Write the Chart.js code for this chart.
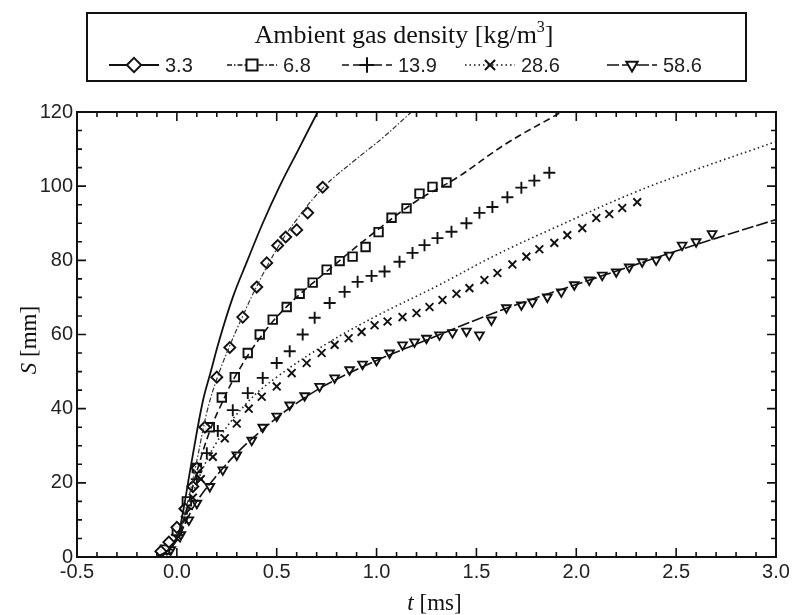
<!DOCTYPE html>
<html><head><meta charset="utf-8">
<script src="https://cdn.jsdelivr.net/npm/chart.js@4/dist/chart.umd.min.js"></script>
<style>html,body{margin:0;padding:0;background:#fff;} canvas{display:block;}</style>
</head><body>
<canvas id="c" width="794" height="615"></canvas>
<script>
// ---- data (t [ms], S [mm]) ----
const densityLabels = ['3.3', '6.8', '13.9', '28.6', '58.6'];
const xTickStep = 0.5;
const yTickStep = 20;

// experimental markers
const exp33 = [[-0.08,1.5],[-0.04,4],[0.0,8],[0.04,13],[0.08,19],[0.1,24],[0.14,35],[0.2,48.5],[0.265,56.5],[0.33,64.7],[0.40,72.8],[0.45,79.3],[0.505,84],[0.545,86.3],[0.60,88.2],[0.655,92.8],[0.73,99.7]];
const exp68 = [[-0.06,2],[0.0,7],[0.05,15],[0.1,24],[0.165,35],[0.225,43],[0.29,48.5],[0.355,55],[0.415,60],[0.48,64],[0.55,67.4],[0.615,71],[0.68,74],[0.75,77.5],[0.815,79.8],[0.88,81],[0.945,83.6],[1.01,87.6],[1.075,91.5],[1.15,94],[1.215,98],[1.28,99.8],[1.35,101]];
const exp139 = [[-0.05,2],[0.0,6],[0.05,13],[0.1,21],[0.15,28],[0.205,34],[0.28,39.6],[0.355,44.2],[0.43,48.3],[0.5,52.3],[0.565,55.5],[0.63,60],[0.69,64.5],[0.765,68.5],[0.84,71.5],[0.905,74.2],[0.975,75.8],[1.04,77],[1.115,79.6],[1.18,82],[1.24,84.1],[1.305,86],[1.375,87.7],[1.45,90],[1.515,92.8],[1.58,94.4],[1.655,97],[1.725,99.6],[1.79,101.5],[1.865,103.6]];
const exp286 = [[-0.05,1.5],[0.0,5],[0.04,10],[0.08,16],[0.12,21],[0.18,27],[0.24,32],[0.3,36],[0.36,40],[0.425,43.2],[0.5,46],[0.575,49.6],[0.65,52.3],[0.725,55],[0.79,57.2],[0.86,59],[0.925,60.7],[0.99,62.5],[1.055,63.5],[1.13,64.7],[1.2,65.8],[1.265,67.4],[1.33,69.3],[1.4,71],[1.465,72.5],[1.54,74.7],[1.605,76.6],[1.68,78.9],[1.75,81],[1.815,83],[1.89,84.7],[1.955,86.8],[2.03,88.7],[2.1,91.4],[2.165,92.5],[2.23,94.1],[2.305,95.7]];
const exp586 = [[-0.03,2],[0.02,6],[0.06,10],[0.1,14.5],[0.165,19],[0.23,23.5],[0.3,27.5],[0.375,31.5],[0.43,35],[0.5,38],[0.565,41],[0.64,43.5],[0.715,46],[0.79,48.3],[0.865,50.5],[0.93,52],[1.0,53],[1.065,55],[1.13,57.2],[1.19,58],[1.25,59],[1.315,59.9],[1.38,60.5],[1.45,60.9],[1.515,59.9],[1.575,63.9],[1.65,67.2],[1.725,68],[1.78,68.8],[1.855,70.1],[1.925,71.5],[1.99,73.4],[2.065,74.7],[2.13,76],[2.2,76.9],[2.265,78.2],[2.33,79.6],[2.4,80.1],[2.465,81.4],[2.53,84.1],[2.6,85],[2.68,87.2]];

// model curves
const model33 = [[-0.1,0],[-0.05,1.5],[0,5],[0.025,10.5],[0.075,26],[0.13,42],[0.17,50],[0.21,58],[0.28,70],[0.35,79.5],[0.43,90],[0.515,100],[0.61,110],[0.705,120],[0.72,121.5]];
const model68 = [[-0.1,0],[-0.05,1.5],[0,5],[0.05,14],[0.1,26],[0.15,39],[0.2,48],[0.265,57],[0.33,65],[0.4,73],[0.5,83],[0.6,91],[0.74,100],[0.88,106.5],[1.03,113],[1.175,120],[1.2,121]];
const model139 = [[-0.1,0],[-0.05,1.5],[0,5],[0.05,13],[0.1,23],[0.165,34],[0.23,42],[0.29,48.5],[0.415,59],[0.55,67.5],[0.75,77],[1.0,88],[1.2,96],[1.4,102.2],[1.65,111.5],[1.925,120],[1.95,121]];
const model286 = [[-0.1,0],[-0.05,1.5],[0,5],[0.05,12],[0.1,20],[0.2,31],[0.35,41.5],[0.5,48.5],[0.75,57.5],[1.0,65],[1.3,73],[1.6,81.5],[1.9,89],[2.3,98.5],[2.6,104.5],[3.0,112]];
const model586 = [[-0.1,0],[-0.05,1.5],[0,4.5],[0.05,10],[0.1,15],[0.2,22],[0.3,28],[0.4,33],[0.5,37.5],[0.6,41.5],[0.75,46.5],[1.0,53],[1.25,58.5],[1.5,64],[1.75,69],[2.0,73.5],[2.25,78],[2.5,82.5],[2.75,86.8],[3.0,91]];

// ---- styles ----
const markerStyles = [
  {pointStyle:'rectRot', radius:5.5, rotation:0},
  {pointStyle:'rect', radius:6, rotation:0},
  {pointStyle:'cross', radius:6, rotation:0},
  {pointStyle:'crossRot', radius:5.5, rotation:0},
  {pointStyle:'triangle', radius:5, rotation:180}
];
const lineStyles = [
  {dash:[], width:1.8, color:'#111'},
  {dash:[5,2,1.5,2], width:1.2, color:'#333'},
  {dash:[7,4], width:1.6, color:'#111'},
  {dash:[1.5,3], width:1.6, color:'#222'},
  {dash:[12,3], width:1.6, color:'#111'}
];
const expSets = [exp33, exp68, exp139, exp286, exp586];
const modelSets = [model33, model68, model139, model286, model586];
const toXY = arr => arr.map(p => ({x:p[0], y:p[1]}));

const datasets = [];
modelSets.forEach((m, i) => {
  datasets.push({
    label: densityLabels[i] + ' model',
    data: toXY(m), showLine: true, pointRadius: 0, pointHoverRadius: 0,
    borderColor: lineStyles[i].color, borderWidth: lineStyles[i].width,
    borderDash: lineStyles[i].dash, tension: 0.4, fill: false
  });
});
expSets.forEach((e, i) => {
  datasets.push({
    label: densityLabels[i],
    data: toXY(e), showLine: false,
    pointStyle: markerStyles[i].pointStyle, pointRadius: markerStyles[i].radius,
    pointRotation: markerStyles[i].rotation,
    pointBorderColor: '#111', pointBackgroundColor: 'rgba(255,255,255,0.9)', pointBorderWidth: 1.9,
    borderColor: '#111', backgroundColor: '#fff'
  });
});

function drawMarker(ctx, style, x, y, scale) {
  const r = style.radius * scale;
  ctx.beginPath();
  switch (style.pointStyle) {
    case 'rectRot': ctx.moveTo(x, y-r); ctx.lineTo(x+r, y); ctx.lineTo(x, y+r); ctx.lineTo(x-r, y); ctx.closePath(); break;
    case 'rect': { const h = r*Math.SQRT1_2; ctx.rect(x-h, y-h, 2*h, 2*h); break; }
    case 'cross': ctx.moveTo(x-r, y); ctx.lineTo(x+r, y); ctx.moveTo(x, y-r); ctx.lineTo(x, y+r); break;
    case 'crossRot': { const h = r*Math.SQRT1_2; ctx.moveTo(x-h, y-h); ctx.lineTo(x+h, y+h); ctx.moveTo(x+h, y-h); ctx.lineTo(x-h, y+h); break; }
    case 'triangle': ctx.moveTo(x-r*0.87, y-r*0.5); ctx.lineTo(x+r*0.87, y-r*0.5); ctx.lineTo(x, y+r); ctx.closePath(); break;
  }
  if (style.pointStyle === 'rectRot' || style.pointStyle === 'rect' || style.pointStyle === 'triangle') { ctx.fillStyle = '#fff'; ctx.fill(); }
  ctx.stroke();
}

const framePlugin = {
  id: 'frame',
  afterDatasetsDraw(chart) {
    const {ctx, chartArea: a, scales: {x, y}} = chart;
    ctx.save();
    ctx.strokeStyle = '#111';
    ctx.setLineDash([]);
    ctx.lineWidth = 2;
    ctx.strokeRect(a.left, a.top, a.right - a.left, a.bottom - a.top);
    ctx.lineWidth = 1.6;
    ctx.beginPath();
    for (let i = -5; i <= 30; i++) {
      const px = x.getPixelForValue(i / 10);
      const len = (Math.abs(i) % 5 === 0) ? 9 : 5;
      ctx.moveTo(px, a.bottom); ctx.lineTo(px, a.bottom - len);
      ctx.moveTo(px, a.top); ctx.lineTo(px, a.top + len);
    }
    for (let v = 0; v <= 120; v += 5) {
      const py = y.getPixelForValue(v);
      const len = (v % 20 === 0) ? 9 : 5;
      ctx.moveTo(a.left, py); ctx.lineTo(a.left + len, py);
      ctx.moveTo(a.right, py); ctx.lineTo(a.right - len, py);
    }
    ctx.stroke();
    ctx.restore();
  },
  afterDraw(chart) {
    const {ctx, chartArea: a} = chart;
    ctx.save();
    ctx.fillStyle = '#111';
    ctx.textBaseline = 'alphabetic';
    // x title
    const xt1 = 't', xt2 = ' [ms]';
    ctx.font = 'italic 23px "Liberation Serif"';
    const w1 = ctx.measureText(xt1).width;
    ctx.font = '23px "Liberation Serif"';
    const w2 = ctx.measureText(xt2).width;
    let sx = (a.left + a.right) / 2 - (w1 + w2) / 2 + 8;
    ctx.font = 'italic 23px "Liberation Serif"'; ctx.fillText(xt1, sx, 610);
    ctx.font = '23px "Liberation Serif"'; ctx.fillText(xt2, sx + w1, 610);
    // y title
    ctx.save();
    ctx.translate(36, 340);
    ctx.rotate(-Math.PI / 2);
    const yt1 = 'S', yt2 = ' [mm]';
    ctx.font = 'italic 23px "Liberation Serif"';
    const v1 = ctx.measureText(yt1).width;
    ctx.font = '23px "Liberation Serif"';
    const v2 = ctx.measureText(yt2).width;
    const sy = -(v1 + v2) / 2;
    ctx.font = 'italic 23px "Liberation Serif"'; ctx.fillText(yt1, sy, 0);
    ctx.font = '23px "Liberation Serif"'; ctx.fillText(yt2, sy + v1, 0);
    ctx.restore();

    // legend box
    ctx.strokeStyle = '#111';
    ctx.lineWidth = 2;
    ctx.setLineDash([]);
    ctx.strokeRect(87, 13, 659, 68);
    // legend title
    const lt = 'Ambient gas density [kg/m', sup = '3', lt2 = ']';
    ctx.font = '26px "Liberation Serif"';
    const tw = ctx.measureText(lt).width;
    const tw3 = ctx.measureText(lt2).width;
    ctx.font = '16px "Liberation Serif"';
    const sw = ctx.measureText(sup).width;
    let tx = 404 - (tw + sw + tw3) / 2;
    ctx.font = '26px "Liberation Serif"'; ctx.fillText(lt, tx, 43);
    ctx.font = '16px "Liberation Serif"'; ctx.fillText(sup, tx + tw, 32);
    ctx.font = '26px "Liberation Serif"'; ctx.fillText(lt2, tx + tw + sw, 43);
    // legend items
    const centers = [134, 252, 367, 490, 632];
    const ly = 65;
    centers.forEach((cx, i) => {
      const ls = lineStyles[i];
      ctx.strokeStyle = '#111';
      ctx.lineWidth = Math.max(ls.width, 1.7);
      ctx.setLineDash(ls.dash);
      ctx.beginPath(); ctx.moveTo(cx - 25, ly); ctx.lineTo(cx + 25, ly); ctx.stroke();
      ctx.setLineDash([]);
      ctx.lineWidth = 2;
      drawMarker(ctx, markerStyles[i], cx, ly, 1.3);
      ctx.fillStyle = '#222';
      ctx.font = '20px "Liberation Sans"';
      ctx.textBaseline = 'middle';
      ctx.fillText(densityLabels[i], cx + 31, ly + 1);
      ctx.textBaseline = 'alphabetic';
    });
    ctx.restore();
  }
};

new Chart(document.getElementById('c'), {
  type: 'scatter',
  data: { datasets },
  options: {
    responsive: false,
    animation: false,
    devicePixelRatio: 1,
    layout: { padding: { left: 0, right: 18, top: 112, bottom: 0 } },
    plugins: { legend: { display: false }, tooltip: { enabled: false }, title: { display: false } },
    scales: {
      x: {
        type: 'linear', min: -0.5, max: 3.0,
        ticks: { stepSize: xTickStep, callback: v => Number(v).toFixed(1), color: '#222',
                 font: { family: 'Liberation Sans', size: 20 }, padding: 3, maxRotation: 0, autoSkip: false },
        grid: { display: false, drawTicks: false },
        border: { display: false },
        afterFit: s => { s.height = 58; }
      },
      y: {
        type: 'linear', min: 0, max: 120,
        ticks: { stepSize: yTickStep, color: '#222', font: { family: 'Liberation Sans', size: 20 }, padding: 4 },
        grid: { display: false, drawTicks: false },
        border: { display: false },
        afterFit: s => { s.width = 77; }
      }
    }
  },
  plugins: [framePlugin]
});
</script>
</body></html>
